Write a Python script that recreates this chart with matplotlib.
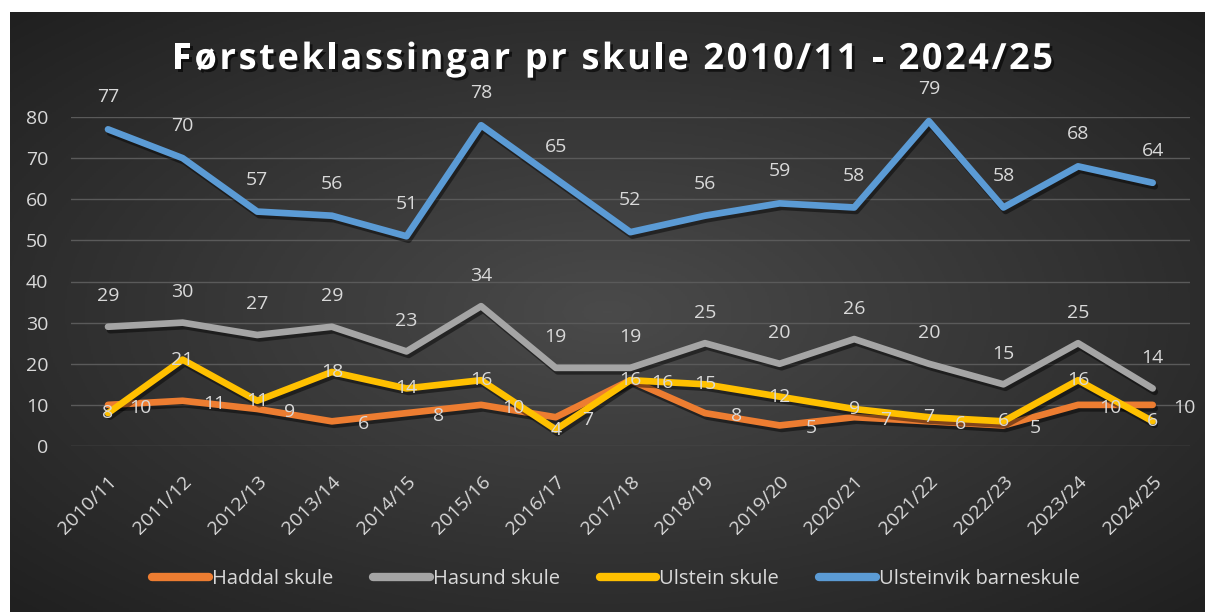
import numpy as np
import matplotlib
matplotlib.use("Agg")
import matplotlib.pyplot as plt
import matplotlib.patheffects as pe
from matplotlib.font_manager import FontProperties

years = ["2010/11", "2011/12", "2012/13", "2013/14", "2014/15", "2015/16", "2016/17",
         "2017/18", "2018/19", "2019/20", "2020/21", "2021/22", "2022/23", "2023/24", "2024/25"]
haddal = [10, 11, 9, 6, 8, 10, 7, 16, 8, 5, 7, 6, 5, 10, 10]
hasund = [29, 30, 27, 29, 23, 34, 19, 19, 25, 20, 26, 20, 15, 25, 14]
ulstein = [8, 21, 11, 18, 14, 16, 4, 16, 15, 12, 9, 7, 6, 16, 6]
ulsteinvik = [77, 70, 57, 56, 51, 78, 65, 52, 56, 59, 58, 79, 58, 68, 64]

names = ["Haddal skule", "Hasund skule", "Ulstein skule", "Ulsteinvik barneskule"]
colors = ["#ED7D31", "#A5A5A5", "#FFC000", "#5B9BD5"]
title = "Førsteklassingar pr skule 2010/11 - 2024/25"
TXT = "#D9D9D9"
FONT = "Open Sans"

fig = plt.figure(figsize=(12.08, 6.12), dpi=100, facecolor="white")

# dark radial-gradient background
bg = fig.add_axes([10 / 1208, 0, 1195 / 1208, 600 / 612])
yy, xx = np.mgrid[-1:1:300j, -1:1:600j]
r = np.sqrt(xx ** 2 + yy ** 2)
grad = np.clip(1 - r / 1.45, 0, 1)
bg.imshow(grad, cmap=matplotlib.colors.LinearSegmentedColormap.from_list(
    "bg", ["#202020", "#4a4a4a"]), aspect="auto", extent=[0, 1, 0, 1])
bg.axis("off")

ax = fig.add_axes([70.7 / 1208, (612 - 446) / 612, (1190 - 70.7) / 1208, (446 - 117) / 612])
ax.set_facecolor("none")
x = np.arange(len(years))
shadow = [pe.SimpleLineShadow(offset=(1.5, -2.5), shadow_color="black", alpha=0.45), pe.Normal()]
series = [haddal, hasund, ulstein, ulsteinvik]
for vals, name, c in zip(series, names, colors):
    ax.plot(x, vals, color=c, lw=4.8, label=name, solid_capstyle="round",
            solid_joinstyle="round", path_effects=shadow)

lbl = dict(color=TXT, fontsize=14, family=FONT, ha="center", va="center")
for i, v in enumerate(ulsteinvik):
    ax.annotate(str(v), (i, v), xytext=(0, 23), textcoords="offset points", **lbl)
for i, v in enumerate(hasund):
    ax.annotate(str(v), (i, v), xytext=(0, 22), textcoords="offset points", **lbl)
for i, v in enumerate(ulstein):
    ax.annotate(str(v), (i, v), xytext=(0, 0), textcoords="offset points", **lbl)
for i, v in enumerate(haddal):
    ax.annotate(str(v), (i, v), xytext=(23, -2), textcoords="offset points", **lbl)

ax.set_xlim(-0.5, len(years) - 0.5)
ax.set_ylim(0, 80)
ax.set_yticks(range(0, 81, 10))
ax.set_xticks(x)
ax.set_xticklabels(years, rotation=45, ha="right", rotation_mode="anchor")
ax.tick_params(colors=TXT, length=0, labelsize=14)
ax.tick_params(axis="x", pad=19)
ax.tick_params(axis="y", pad=16)
for t in ax.get_xticklabels() + ax.get_yticklabels():
    t.set_family(FONT)
ax.grid(axis="y", color="#5a5a5a", lw=1)
for s in ax.spines.values():
    s.set_visible(False)

# title with wide letter spacing, placed character by character
fp = FontProperties(family=FONT, weight="bold", size=26)
renderer = fig.canvas.get_renderer()
widths = [renderer.get_text_width_height_descent(ch if ch != " " else "a a", fp, ismath=False)[0]
          - (renderer.get_text_width_height_descent("aa", fp, ismath=False)[0] if ch == " " else 0)
          for ch in title]
left, right = 172, 1053
gap = (right - left - sum(widths)) / (len(title) - 1)
xpos = left
for ch, w in zip(title, widths):
    fig.text(xpos / 1208, 1 - 60 / 612, ch, fontproperties=fp, color="white",
             ha="left", va="center",
             path_effects=[pe.withSimplePatchShadow(offset=(2, -2), shadow_rgbFace="black", alpha=0.6)])
    xpos += w + gap

leg = fig.legend(loc="center", bbox_to_anchor=(616 / 1208, (612 - 579) / 612), ncol=4, frameon=False,
                 prop={"family": FONT, "size": 14.5}, handlelength=2.8, columnspacing=2.0,
                 handletextpad=0.15)
for line in leg.get_lines():
    line.set_linewidth(6)
    line.set_path_effects([])
for t in leg.get_texts():
    t.set_color(TXT)

fig.savefig("out.png", dpi=100, facecolor="white")
